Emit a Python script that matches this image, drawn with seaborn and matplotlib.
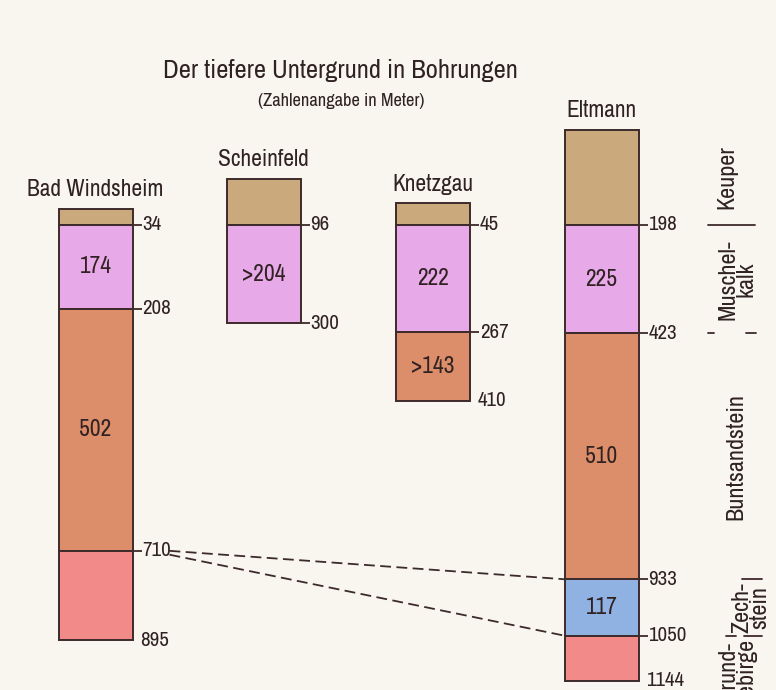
import matplotlib
matplotlib.use("Agg")
import matplotlib.pyplot as plt
from matplotlib import font_manager as fm
import seaborn as sns
import pandas as pd

# ---------------- data ----------------
boreholes = ["Bad Windsheim", "Scheinfeld", "Knetzgau", "Eltmann"]

bad_windsheim_depths = [0, 34, 208, 710, 895]
bad_windsheim_units = ["Keuper", "Muschelkalk", "Buntsandstein", "Grundgebirge"]
bad_windsheim_labels = ["", "174", "502", ""]

scheinfeld_depths = [0, 96, 300]
scheinfeld_units = ["Keuper", "Muschelkalk"]
scheinfeld_labels = ["", ">204"]

knetzgau_depths = [0, 45, 267, 410]
knetzgau_units = ["Keuper", "Muschelkalk", "Buntsandstein"]
knetzgau_labels = ["", "222", ">143"]

eltmann_depths = [0, 198, 423, 933, 1050, 1144]
eltmann_units = ["Keuper", "Muschelkalk", "Buntsandstein", "Zechstein", "Grundgebirge"]
eltmann_labels = ["", "225", "510", "117", ""]

bottom_ticked = [False, True, False, False]

unit_names = ["Keuper", "Muschelkalk", "Buntsandstein", "Zechstein", "Grundgebirge"]
unit_colors = ["#caa97c", "#e8a9e8", "#dc8d6a", "#8fb2e2", "#f28a8a"]
strat_labels = ["Keuper", "Muschel-\nkalk", "Buntsandstein", "Zech-\nstein", "Grund-\ngebirge"]

corr_from = [("Bad Windsheim", 710), ("Bad Windsheim", 710)]
corr_to = [("Eltmann", 933), ("Eltmann", 1050)]

title = "Der tiefere Untergrund in Bohrungen"
subtitle = "(Zahlenangabe in Meter)"

# ---------------- style ----------------
sns.set_theme(style="white")
plt.rcParams["font.family"] = ["DejaVu Sans"]
TXT = "#302222"
EDGE = "#3d2a2a"
BG = "#f8f6ee"


def pick_font():
    fl = fm.fontManager.ttflist
    def ok(f):
        return f.style == "normal" and str(f.weight) in ("400", "normal", "regular", "book")
    for f in fl:
        if f.name == "Liberation Sans Narrow" and ok(f):
            return fm.FontProperties(fname=f.fname)
    for f in fl:
        if ("Condensed" in f.name or "Narrow" in f.name) and ok(f):
            return fm.FontProperties(fname=f.fname)
    for f in fl:
        if f.stretch in ("condensed", "semi-condensed") and ok(f) and "Sans" in f.name and "Mono" not in f.name:
            return fm.FontProperties(fname=f.fname)
    return fm.FontProperties(family="DejaVu Sans")


BASE_FP = pick_font()
palette = dict(zip(unit_names, sns.color_palette(unit_colors)))

cols = {
    "Bad Windsheim": (bad_windsheim_depths, bad_windsheim_units, bad_windsheim_labels),
    "Scheinfeld": (scheinfeld_depths, scheinfeld_units, scheinfeld_labels),
    "Knetzgau": (knetzgau_depths, knetzgau_units, knetzgau_labels),
    "Eltmann": (eltmann_depths, eltmann_units, eltmann_labels),
}
x_centers = dict(zip(boreholes, [95.5, 263.5, 433.0, 601.5]))
bar_w = 74

rows = []
for b in boreholes:
    d, u, lab = cols[b]
    hang = d[1]
    for i in range(len(u)):
        rows.append(dict(borehole=b, unit=u[i], top=d[i] - hang,
                         thick=d[i + 1] - d[i], label=lab[i]))
layers = pd.DataFrame(rows)

fig = plt.figure(figsize=(7.76, 6.9), dpi=100, facecolor=BG)
ax = fig.add_axes([0, 0, 1, 1])
ax.set_facecolor(BG)
SCALE = 0.482
ax.set_xlim(0, 776)
ax.set_ylim(465 / SCALE, -225 / SCALE)
ax.axis("off")
renderer = fig.canvas.get_renderer()


def fp_fit_w(sample, target_px):
    p = BASE_FP.copy()
    p.set_size(10)
    w, h, dsc = renderer.get_text_width_height_descent(sample, p, ismath=False)
    p.set_size(10 * target_px / w)
    return p


def fp_fit_h(sample, target_px):
    p = BASE_FP.copy()
    p.set_size(40)
    w, h, dsc = renderer.get_text_width_height_descent(sample, p, ismath=False)
    p.set_size(40 * target_px / (h - dsc))
    return p


FP_TITLE = fp_fit_w(title, 356)
FP_SUB = fp_fit_w(subtitle, 167)
FP_NAME = fp_fit_w("Bad Windsheim", 137)
FP_IN = fp_fit_h("174", 16.5)
FP_DEP = fp_fit_h("208", 14.5)
FP_STRAT = fp_fit_h("K", 16.5)


def rel(b, depth):
    return depth - cols[b][0][1]


for _, r in layers.iterrows():
    ax.bar(x_centers[r.borehole], r.thick, bottom=r.top, width=bar_w,
           color=palette[r.unit], edgecolor=EDGE, linewidth=1.4)
    if r.label:
        ax.text(x_centers[r.borehole], r.top + r.thick / 2, r.label,
                ha="center", va="center", fontproperties=FP_IN, color=TXT)

for bi, b in enumerate(boreholes):
    d = cols[b][0]
    xr = x_centers[b] + bar_w / 2
    for j, depth in enumerate(d[1:]):
        y = rel(b, depth)
        last = j == len(d) - 2
        if (not last) or bottom_ticked[bi]:
            ax.plot([xr, xr + 9], [y, y], color=EDGE, lw=1.3, solid_capstyle="butt")
            ax.text(xr + 10, y, str(depth), ha="left", va="center",
                    fontproperties=FP_DEP, color=TXT)
        else:
            ax.text(xr + 8, y, str(depth), ha="left", va="center",
                    fontproperties=FP_DEP, color=TXT)
    ax.annotate(b, (x_centers[b], rel(b, 0)), xytext=(0, 6),
                textcoords="offset points", ha="center", va="bottom",
                fontproperties=FP_NAME, color=TXT)

for (fb, fd), (tb, td) in zip(corr_from, corr_to):
    x0 = x_centers[fb] + bar_w / 2 + 37
    x1 = x_centers[tb] - bar_w / 2
    y0 = rel(fb, fd) + (0 if td == corr_to[0][1] else 8)
    ax.plot([x0, x1], [y0, rel(tb, td)], color=EDGE, lw=1.3,
            dashes=(6, 3))

e_d = eltmann_depths
label_x = [727, 737, 736, 751, 738]
for i, s in enumerate(strat_labels):
    yc = (rel("Eltmann", e_d[i]) + rel("Eltmann", e_d[i + 1])) / 2
    if i == len(strat_labels) - 1:
        yc = rel("Eltmann", e_d[i]) + 76
    ax.text(label_x[i], yc, s, rotation=90, ha="center", va="center",
            fontproperties=FP_STRAT, color=TXT, linespacing=0.85,
            multialignment="center")

separators = {198: [(708, 755)], 423: [(708, 714), (746, 756)],
              933: [(742, 762)], 1050: [(726, 736), (744, 762)]}
for depth, segs in separators.items():
    y = rel("Eltmann", depth)
    for a, bb in segs:
        ax.plot([a, bb], [y, y], color=EDGE, lw=1.3)

fig.text(340 / 776, 1 - 70 / 690, title, ha="center", va="center",
         fontproperties=FP_TITLE, color=TXT)
fig.text(341 / 776, 1 - 101 / 690, subtitle, ha="center", va="center",
         fontproperties=FP_SUB, color=TXT)

fig.savefig("out.png", dpi=100, facecolor=BG)
